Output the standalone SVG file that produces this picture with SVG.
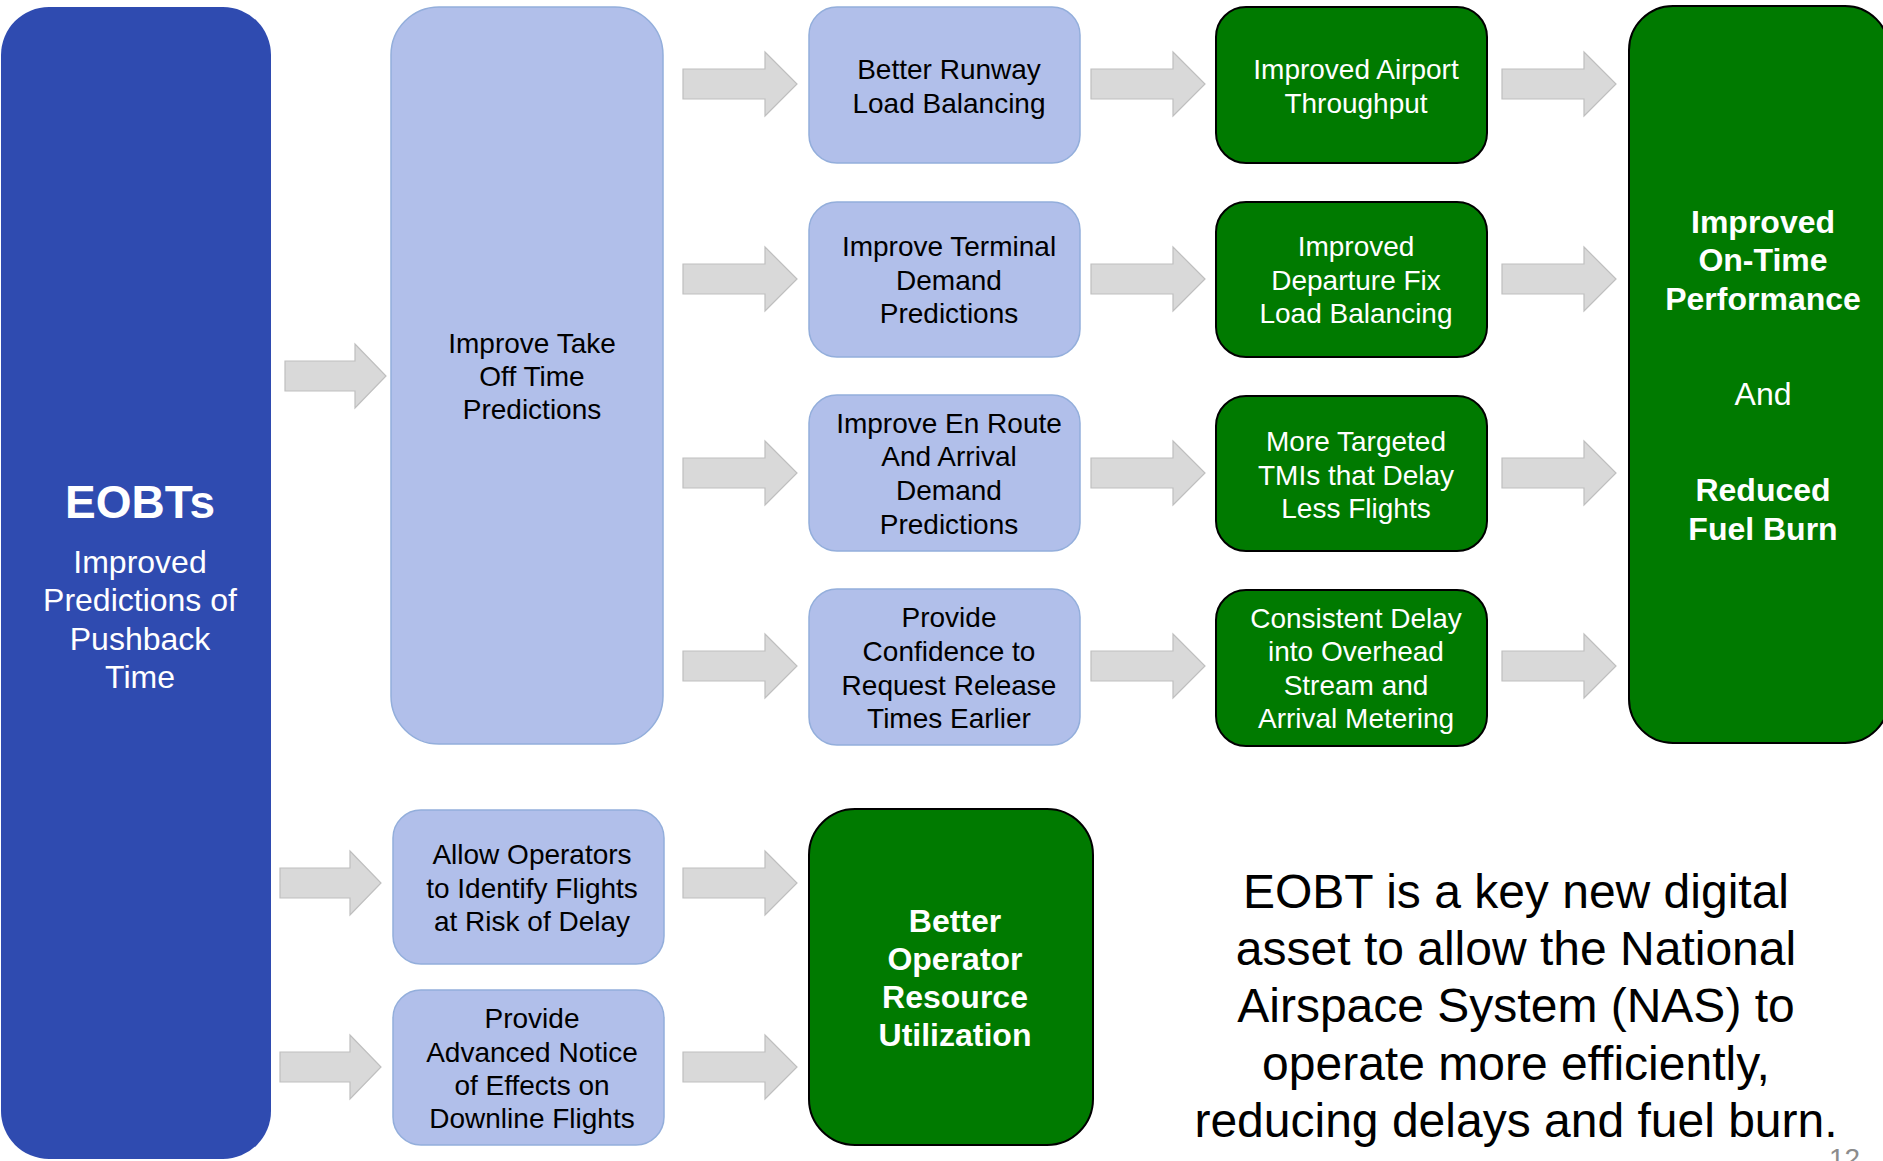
<svg xmlns="http://www.w3.org/2000/svg" width="1883" height="1161" viewBox="0 0 1883 1161">
<style>
  text { font-family: "Liberation Sans", Arial, sans-serif; text-anchor: middle; }
  .blue { fill: #2F4BB0; }
  .light { fill: #B1BFEA; stroke: #93AEDB; stroke-width: 1.5; }
  .green { fill: #007A00; stroke: #000000; stroke-width: 2; }
  .arrow { fill: #D9D9D9; stroke: #BFBFBF; stroke-width: 1.2; }
  .t28 { font-size: 28px; fill: #000000; }
  .w28 { font-size: 28px; fill: #FFFFFF; }
  .w32 { font-size: 32px; fill: #FFFFFF; }
  .wb32 { font-size: 32px; fill: #FFFFFF; font-weight: bold; }
  .big { font-size: 48px; fill: #000000; }
</style>
<defs>
  <path id="arr" d="M0,-15 L82,-15 L82,-32 L114,0 L82,32 L82,15 L0,15 Z"/>
  <path id="arrS" d="M0,-15 L70,-15 L70,-32 L101,0 L70,32 L70,15 L0,15 Z"/>
</defs>
<rect width="1883" height="1161" fill="#FFFFFF"/>

<g id="connectors">
  <use href="#arrS" class="arrow" x="285" y="376"/>
  <use href="#arr" class="arrow" x="683" y="84"/>
  <use href="#arr" class="arrow" x="683" y="279"/>
  <use href="#arr" class="arrow" x="683" y="473"/>
  <use href="#arr" class="arrow" x="683" y="666"/>
  <use href="#arr" class="arrow" x="1091" y="84"/>
  <use href="#arr" class="arrow" x="1091" y="279"/>
  <use href="#arr" class="arrow" x="1091" y="473"/>
  <use href="#arr" class="arrow" x="1091" y="666"/>
  <use href="#arr" class="arrow" x="1502" y="84"/>
  <use href="#arr" class="arrow" x="1502" y="279"/>
  <use href="#arr" class="arrow" x="1502" y="473"/>
  <use href="#arr" class="arrow" x="1502" y="666"/>
  <use href="#arrS" class="arrow" x="280" y="883"/>
  <use href="#arrS" class="arrow" x="280" y="1067"/>
  <use href="#arr" class="arrow" x="683" y="883"/>
  <use href="#arr" class="arrow" x="683" y="1067"/>
</g>

<g id="eobts">
  <rect class="blue" x="1" y="7" width="270" height="1152" rx="48"/>
  <text x="140" y="518" style="font-size:46px;font-weight:bold;fill:#FFFFFF">EOBTs</text>
  <text class="w32" x="140" y="573">Improved</text>
  <text class="w32" x="140" y="611">Predictions of</text>
  <text class="w32" x="140" y="650">Pushback</text>
  <text class="w32" x="140" y="688">Time</text>
</g>

<g id="takeoff">
  <rect class="light" x="391" y="7" width="272" height="737" rx="48"/>
  <text class="t28" x="532" y="353">Improve Take</text>
  <text class="t28" x="532" y="386">Off Time</text>
  <text class="t28" x="532" y="419">Predictions</text>
</g>

<g id="runway">
  <rect class="light" x="809" y="7" width="271" height="156" rx="28"/>
  <text class="t28" x="949" y="79">Better Runway</text>
  <text class="t28" x="949" y="113">Load Balancing</text>
</g>
<g id="terminal">
  <rect class="light" x="809" y="202" width="271" height="155" rx="28"/>
  <text class="t28" x="949" y="256">Improve Terminal</text>
  <text class="t28" x="949" y="290">Demand</text>
  <text class="t28" x="949" y="323">Predictions</text>
</g>
<g id="enroute">
  <rect class="light" x="809" y="395" width="271" height="156" rx="28"/>
  <text class="t28" x="949" y="433">Improve En Route</text>
  <text class="t28" x="949" y="466">And Arrival</text>
  <text class="t28" x="949" y="500">Demand</text>
  <text class="t28" x="949" y="534">Predictions</text>
</g>
<g id="confidence">
  <rect class="light" x="809" y="589" width="271" height="156" rx="28"/>
  <text class="t28" x="949" y="627">Provide</text>
  <text class="t28" x="949" y="661">Confidence to</text>
  <text class="t28" x="949" y="695">Request Release</text>
  <text class="t28" x="949" y="728">Times Earlier</text>
</g>

<g id="throughput">
  <rect class="green" x="1216" y="7" width="271" height="156" rx="30"/>
  <text class="w28" x="1356" y="79">Improved Airport</text>
  <text class="w28" x="1356" y="113">Throughput</text>
</g>
<g id="departurefix">
  <rect class="green" x="1216" y="202" width="271" height="155" rx="30"/>
  <text class="w28" x="1356" y="256">Improved</text>
  <text class="w28" x="1356" y="290">Departure Fix</text>
  <text class="w28" x="1356" y="323">Load Balancing</text>
</g>
<g id="tmis">
  <rect class="green" x="1216" y="396" width="271" height="155" rx="30"/>
  <text class="w28" x="1356" y="451">More Targeted</text>
  <text class="w28" x="1356" y="485">TMIs that Delay</text>
  <text class="w28" x="1356" y="518">Less Flights</text>
</g>
<g id="consistent">
  <rect class="green" x="1216" y="590" width="271" height="156" rx="30"/>
  <text class="w28" x="1356" y="628">Consistent Delay</text>
  <text class="w28" x="1356" y="661">into Overhead</text>
  <text class="w28" x="1356" y="695">Stream and</text>
  <text class="w28" x="1356" y="728">Arrival Metering</text>
</g>

<g id="ontime">
  <rect class="green" x="1629" y="6" width="260" height="737" rx="44"/>
  <text class="wb32" x="1763" y="233">Improved</text>
  <text class="wb32" x="1763" y="271">On-Time</text>
  <text class="wb32" x="1763" y="310">Performance</text>
  <text class="w32" x="1763" y="405">And</text>
  <text class="wb32" x="1763" y="501">Reduced</text>
  <text class="wb32" x="1763" y="540">Fuel Burn</text>
</g>

<g id="allow">
  <rect class="light" x="393" y="810" width="271" height="154" rx="28"/>
  <text class="t28" x="532" y="864">Allow Operators</text>
  <text class="t28" x="532" y="898">to Identify Flights</text>
  <text class="t28" x="532" y="931">at Risk of Delay</text>
</g>
<g id="advanced">
  <rect class="light" x="393" y="990" width="271" height="155" rx="28"/>
  <text class="t28" x="532" y="1028">Provide</text>
  <text class="t28" x="532" y="1062">Advanced Notice</text>
  <text class="t28" x="532" y="1095">of Effects on</text>
  <text class="t28" x="532" y="1128">Downline Flights</text>
</g>

<g id="operator">
  <rect class="green" x="809" y="809" width="284" height="336" rx="46"/>
  <text class="wb32" x="955" y="932">Better</text>
  <text class="wb32" x="955" y="970">Operator</text>
  <text class="wb32" x="955" y="1008">Resource</text>
  <text class="wb32" x="955" y="1046">Utilization</text>
</g>

<g id="summary">
  <text class="big" x="1516" y="908">EOBT is a key new digital</text>
  <text class="big" x="1516" y="965">asset to allow the National</text>
  <text class="big" x="1516" y="1022">Airspace System (NAS) to</text>
  <text class="big" x="1516" y="1080">operate more efficiently,</text>
  <text class="big" x="1516" y="1137">reducing delays and fuel burn.</text>
</g>

<text x="1829" y="1168" style="font-size:28px;fill:#8C8C8C;text-anchor:start">12</text>
</svg>
